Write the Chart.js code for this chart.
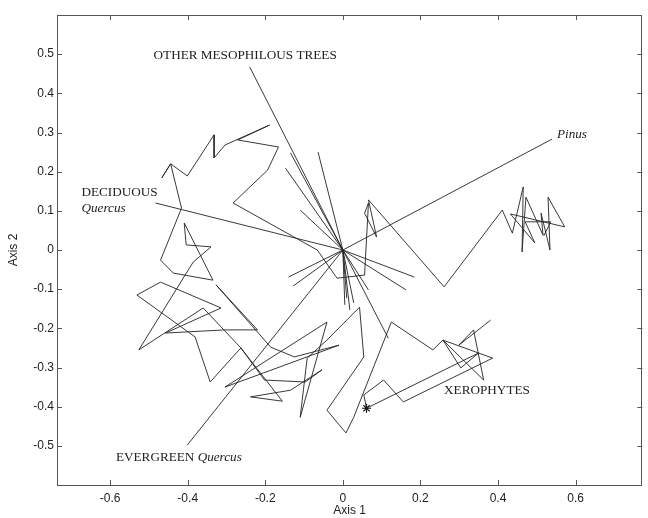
<!DOCTYPE html>
<html><head><meta charset="utf-8">
<script src="https://cdn.jsdelivr.net/npm/chart.js@4/dist/chart.umd.min.js"></script>
<style>html,body{margin:0;padding:0;background:#fff}#wrap{width:648px;height:518px}</style>
</head><body><div id="wrap"><canvas id="c" width="648" height="518"></canvas></div>
<script>
// ---- tick labels ----
const xTickValues = [-0.6, -0.4, -0.2, 0, 0.2, 0.4, 0.6];
const yTickValues = [-0.5, -0.4, -0.3, -0.2, -0.1, 0, 0.1, 0.2, 0.3, 0.4, 0.5];

// ---- sample trajectory (Axis 1 / Axis 2 scores) ----
const trajX = [0.381,0.299,0.337,0.363,0.258,0.304,0.350,0.061,0.054,0.105,0.156,0.386,0.258,0.232,0.125,0.028,0.008,-0.041,0.054,0.043,-0.041,-0.092,-0.110,-0.041,-0.304,-0.010,-0.125,-0.186,-0.327,
  -0.220,-0.304,-0.457,-0.314,-0.470,-0.531,-0.381,-0.342,-0.263,-0.202,-0.097,-0.054,-0.135,-0.238,-0.156,-0.263,-0.360,-0.526,-0.386,-0.340,-0.404,-0.409,-0.335,-0.437,-0.470,-0.416,-0.444,-0.467,-0.444,-0.401,-0.332,-0.332,-0.304,-0.189,-0.271,-0.166,-0.194,-0.283,-0.066,-0.015,0.056,0.066,0.056,0.087,0.066,0.261,0.411,0.437,
  0.465,0.462,0.472,0.516,0.511,0.534,0.529,0.572,0.432,0.495,0.470,0.536,0.518];
const trajY = [-0.179,-0.243,-0.204,-0.332,-0.230,-0.301,-0.263,-0.404,-0.370,-0.332,-0.388,-0.276,-0.230,-0.255,-0.184,-0.427,-0.467,-0.409,-0.273,-0.146,-0.230,-0.276,-0.427,-0.184,-0.350,-0.243,-0.273,-0.248,-0.089,
  -0.204,-0.204,-0.212,-0.148,-0.082,-0.115,-0.222,-0.337,-0.250,-0.332,-0.337,-0.306,-0.358,-0.375,-0.386,-0.250,-0.148,-0.255,-0.031,0.008,0.013,0.069,-0.077,-0.059,-0.026,0.107,0.220,0.184,0.220,0.189,0.294,0.235,0.268,0.319,0.281,0.263,0.204,0.120,0.000,-0.072,-0.064,0.120,0.094,0.033,0.128,-0.094,0.102,0.043,
  0.161,-0.005,0.135,0.038,0.094,0.000,0.135,0.059,0.092,0.018,0.072,0.072,0.036];

// ---- marked sample (asterisk) ----
const starX = [0.061];
const starY = [-0.404];

// ---- taxa loadings (vector tips) ----
const vecNames = ['OTHER MESOPHILOUS TREES','m2','m3','m4','m5','DECIDUOUS Quercus','Pinus','EVERGREEN Quercus','t9','t10','t11','t12','t13','t14','t15','t16','t17','XEROPHYTES'];
const vecX = [-0.240,-0.135,-0.148,-0.064,-0.110,-0.483,0.539,-0.401,-0.140,-0.128,0.010,0.018,0.005,0.028,0.066,0.184,0.163,0.117];
const vecY = [0.467,0.248,0.209,0.250,0.102,0.120,0.283,-0.498,-0.069,-0.092,-0.123,-0.153,-0.140,-0.135,-0.102,-0.069,-0.102,-0.225];

// ---- build datasets from the arrays ----
const lineStyle = {showLine: true, borderColor: '#222', borderWidth: 0.9, pointRadius: 0, tension: 0};
const datasets = vecX.map((x, i) => Object.assign({label: vecNames[i], data: [{x: 0, y: 0}, {x: x, y: vecY[i]}]}, lineStyle));
datasets.push(Object.assign({label: 'samples', data: trajX.map((x, i) => ({x: x, y: trajY[i]}))}, lineStyle));
datasets.push({label: 'marked', data: starX.map((x, i) => ({x: x, y: starY[i]})), showLine: false,
  pointStyle: 'star', pointRadius: 4.5, borderColor: '#111', borderWidth: 1.2, backgroundColor: '#111'});

// text annotations (positions in data units)
const annotations = [
  {parts: [['OTHER MESOPHILOUS TREES', false]], x: -0.488, y: 0.4955},
  {parts: [['DECIDUOUS', false]], x: -0.674, y: 0.146},
  {parts: [['Quercus', true]], x: -0.674, y: 0.105},
  {parts: [['Pinus', true]], x: 0.552, y: 0.294},
  {parts: [['EVERGREEN ', false], ['Quercus', true]], x: -0.585, y: -0.531},
  {parts: [['XEROPHYTES', false]], x: 0.261, y: -0.360}
];

const frame = {
  id: 'frame',
  afterDatasetsDraw(chart) {
    const {ctx, chartArea: a, scales} = chart;
    ctx.save();
    ctx.strokeStyle = '#555';
    ctx.lineWidth = 1;
    ctx.strokeRect(Math.round(a.left) + 0.5, Math.round(a.top) + 0.5, Math.round(a.right - a.left) - 1, Math.round(a.bottom - a.top));
    const L = 5;
    ctx.beginPath();
    xTickValues.forEach(v => {
      const px = Math.round(scales.x.getPixelForValue(v)) + 0.5;
      ctx.moveTo(px, a.bottom); ctx.lineTo(px, a.bottom - L);
      ctx.moveTo(px, a.top); ctx.lineTo(px, a.top + L);
    });
    yTickValues.forEach(v => {
      const py = Math.round(scales.y.getPixelForValue(v)) + 0.5;
      ctx.moveTo(a.left, py); ctx.lineTo(a.left + L, py);
      ctx.moveTo(a.right, py); ctx.lineTo(a.right - L, py);
    });
    ctx.stroke();
    ctx.fillStyle = '#222';
    ctx.font = '12px "Liberation Sans", Arial, sans-serif';
    ctx.textAlign = 'center'; ctx.textBaseline = 'middle';
    ctx.fillText('Axis 1', (a.left + a.right) / 2, 511);
    ctx.save();
    ctx.translate(14, (a.top + a.bottom) / 2);
    ctx.rotate(-Math.PI / 2);
    ctx.fillText('Axis 2', 0, 0);
    ctx.restore();
    ctx.textAlign = 'left';
    annotations.forEach(an => {
      let px = scales.x.getPixelForValue(an.x);
      const py = scales.y.getPixelForValue(an.y);
      an.parts.forEach(([t, it]) => {
        ctx.font = (it ? 'italic ' : '') + '13.2px "Liberation Serif", "Times New Roman", serif';
        ctx.fillText(t, px, py);
        px += ctx.measureText(t).width;
      });
    });
    ctx.restore();
  }
};

new Chart(document.getElementById('c'), {
  type: 'scatter',
  data: {datasets: datasets},
  options: {
    responsive: false, animation: false, devicePixelRatio: 1,
    layout: {padding: {top: 15, right: 1, left: 0, bottom: 0}},
    plugins: {legend: {display: false}, tooltip: {enabled: false}},
    scales: {
      x: {
        type: 'linear', min: -0.737, max: 0.772,
        afterBuildTicks: s => { s.ticks = xTickValues.map(v => ({value: v})); },
        afterFit: s => { s.height = 33; },
        grid: {display: false, drawTicks: false}, border: {display: false},
        ticks: {padding: 6, color: '#222', font: {family: '"Liberation Sans", Arial, sans-serif', size: 12},
          callback: v => String(Math.round(v * 10) / 10)}
      },
      y: {
        type: 'linear', min: -0.6, max: 0.6,
        afterBuildTicks: s => { s.ticks = yTickValues.map(v => ({value: v})); },
        afterFit: s => { s.width = 57; },
        grid: {display: false, drawTicks: false}, border: {display: false},
        ticks: {padding: 3, color: '#222', font: {family: '"Liberation Sans", Arial, sans-serif', size: 12},
          callback: v => String(Math.round(v * 10) / 10)}
      }
    }
  },
  plugins: [frame]
});
</script></body></html>
